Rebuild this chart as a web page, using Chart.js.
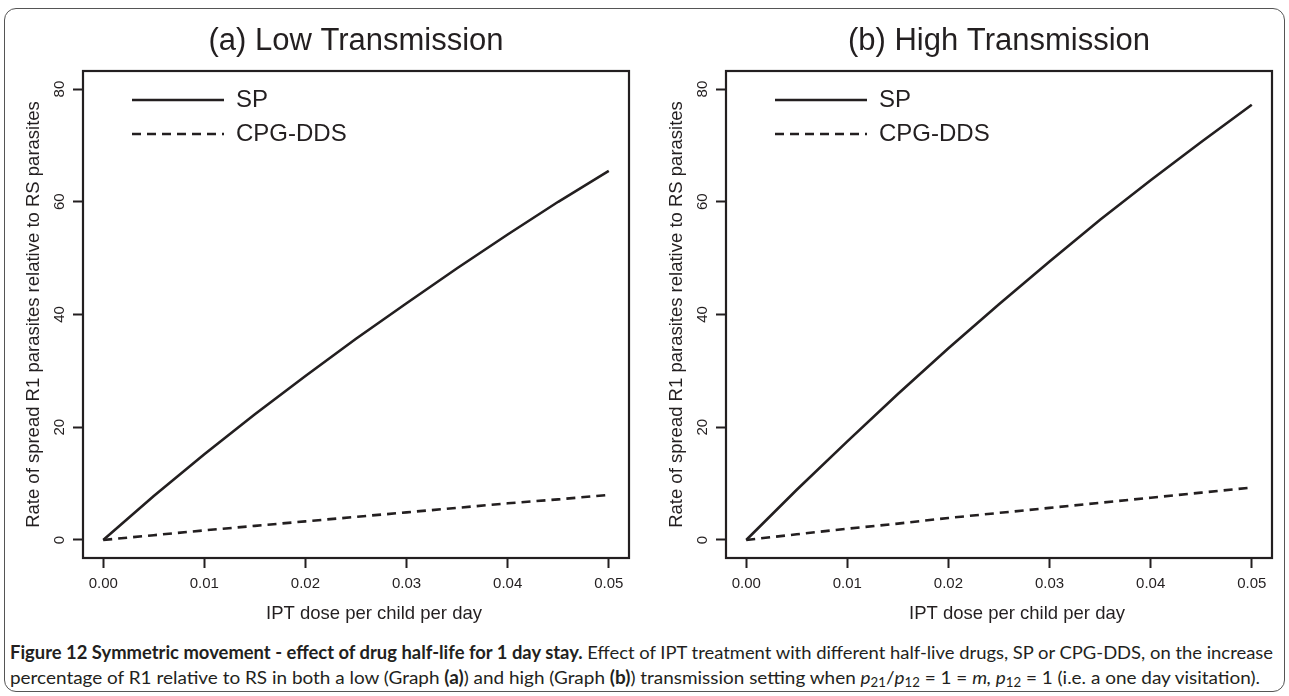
<!DOCTYPE html>
<html><head><meta charset="utf-8">
<script src="https://cdn.jsdelivr.net/npm/chart.js@4.4.1/dist/chart.umd.min.js"></script>
<style>
html,body{margin:0;padding:0;background:#fff;width:1289px;height:696px;overflow:hidden;}
#frame{position:absolute;left:4px;top:8px;width:1281px;height:684px;border:1.5px solid #555;border-radius:12px;box-sizing:border-box;}
.pane{position:absolute;top:0;width:644px;height:640px;}
#pa{left:0;} #pb{left:643px;}
#caption{position:absolute;left:10px;top:640px;font-family:Lato,"Open Sans",sans-serif;font-size:18px;line-height:25px;color:#231f20;}
.cl{white-space:nowrap;transform-origin:0 50%;width:max-content;}
.cl b{font-weight:700;}
sub{font-size:70%;vertical-align:-3px;line-height:0;}
</style></head>
<body>
<div id="frame"></div>
<div class="pane" id="pa"><canvas id="ca" width="644" height="640"></canvas></div>
<div class="pane" id="pb"><canvas id="cb" width="644" height="640"></canvas></div>
<div id="caption">
<div class="cl" id="l1" data-w="1263"><b>Figure 12 Symmetric movement - effect of drug half-life for 1 day stay.</b> Effect of IPT treatment with different half-live drugs, SP or CPG-DDS, on the increase</div>
<div class="cl" id="l2" data-w="1250">percentage of R1 relative to RS in both a low (Graph <b>(a)</b>) and high (Graph <b>(b)</b>) transmission setting when <i>p</i><sub>21</sub>/<i>p</i><sub>12</sub> = 1 = <i>m, p</i><sub>12</sub> = 1 (i.e. a one day visitation).</div>
</div>
<script>
const X_DOSE = [0, 0.005, 0.01, 0.015, 0.02, 0.025, 0.03, 0.035, 0.04, 0.045, 0.05];
const LOW_SP = [0, 7.8, 15.2, 22.3, 29.1, 35.7, 42.0, 48.2, 54.2, 60.0, 65.5];
const LOW_CPG = [0, 0.85, 1.7, 2.5, 3.3, 4.1, 4.9, 5.7, 6.5, 7.2, 8.0];
const HIGH_SP = [0, 8.9, 17.5, 25.9, 34.0, 41.8, 49.4, 56.8, 63.8, 70.6, 77.2];
const HIGH_CPG = [0, 1.0, 2.0, 2.9, 3.9, 4.8, 5.7, 6.6, 7.5, 8.4, 9.3];
const X_TICKS = [0, 0.01, 0.02, 0.03, 0.04, 0.05];
const X_TICK_LABELS = ['0.00', '0.01', '0.02', '0.03', '0.04', '0.05'];
const Y_TICKS = [0, 20, 40, 60, 80];
const Y_TICK_LABELS = ['0', '20', '40', '60', '80'];
const SERIES_NAMES = ['SP', 'CPG-DDS'];
const PANEL_TITLES = ['(a) Low Transmission', '(b) High Transmission'];
const X_TITLE = 'IPT dose per child per day';
const Y_TITLE = 'Rate of spread R1 parasites relative to RS parasites';

const INK = '#231f20';
const FONT = '"Liberation Sans", Arial, sans-serif';

const boxPlugin = {
  id: 'rbox',
  afterLayout(chart) {
    const sx = chart.scales.x;
    if (!sx._shifted) {
      const orig = sx.drawTitle;
      sx.drawTitle = function () {
        const ctx = this.ctx; ctx.save(); ctx.translate(18, 0); orig.apply(this, arguments); ctx.restore();
      };
      sx._shifted = true;
    }
  },
  afterDatasetsDraw(chart) {
    const {ctx, chartArea: a} = chart;
    ctx.save(); ctx.strokeStyle = INK; ctx.lineWidth = 2.2;
    ctx.strokeRect(a.left, a.top, a.right - a.left, a.bottom - a.top);
    ctx.restore();
  }
};
const legendPlugin = {
  id: 'rlegend',
  afterDatasetsDraw(chart, args, o) {
    const {ctx, chartArea: a} = chart;
    chart.data.datasets.forEach((ds, i) => {
      const y = a.top + o.top + i * o.gap;
      const x0 = a.left + o.left;
      ctx.save();
      ctx.strokeStyle = ds.borderColor; ctx.lineWidth = ds.borderWidth;
      ctx.setLineDash(ds.borderDash || []);
      ctx.beginPath(); ctx.moveTo(x0, y); ctx.lineTo(x0 + o.len, y); ctx.stroke();
      ctx.setLineDash([]);
      ctx.fillStyle = INK; ctx.font = o.font; ctx.textBaseline = 'middle';
      ctx.fillText(ds.label, x0 + o.len + o.textGap, y);
      ctx.restore();
    });
  }
};

function pts(ys) { return X_DOSE.map((x, i) => ({x: x, y: ys[i]})); }

function makeChart(id, title, sp, cpg) {
  return new Chart(document.getElementById(id), {
    type: 'line',
    data: {
      datasets: [
        {label: SERIES_NAMES[0], data: pts(sp), borderColor: INK, borderWidth: 2.6, pointRadius: 0, tension: 0, fill: false},
        {label: SERIES_NAMES[1], data: pts(cpg), borderColor: INK, borderWidth: 2.6, borderDash: [9, 6], pointRadius: 0, tension: 0, fill: false}
      ]
    },
    plugins: [boxPlugin, legendPlugin],
    options: {
      responsive: false, animation: false, devicePixelRatio: 1,
      layout: {padding: {left: 0, right: 15, top: 0, bottom: 0}},
      plugins: {
        legend: {display: false}, tooltip: {enabled: false},
        title: {display: true, text: title, fullSize: false, color: INK,
          font: {family: FONT, size: 31, weight: 'normal', lineHeight: 1.2},
          padding: {top: 22.4, bottom: 11.4}},
        rlegend: {left: 49, top: 29, gap: 34, len: 92, textGap: 12, font: '24px ' + FONT}
      },
      scales: {
        x: {
          type: 'linear', min: -0.002, max: 0.052,
          afterBuildTicks: s => { s.ticks = X_TICKS.map(v => ({value: v})); },
          afterFit: s => { s.height = 82; },
          ticks: {callback: (v, i) => X_TICK_LABELS[i], color: INK, padding: 7, maxRotation: 0, autoSkip: false,
            font: {family: FONT, size: 15}},
          grid: {display: true, drawOnChartArea: false, drawTicks: true, tickLength: 10, tickWidth: 2, tickColor: INK},
          border: {display: false},
          title: {display: true, text: X_TITLE, color: INK, font: {family: FONT, size: 18.5, lineHeight: 1.2}, padding: {top: 0, bottom: 15}}
        },
        y: {
          type: 'linear', min: -3.2, max: 83.2,
          afterBuildTicks: s => { s.ticks = Y_TICKS.map(v => ({value: v})); },
          afterFit: s => { s.width = 83; },
          ticks: {callback: (v, i) => Y_TICK_LABELS[i], color: INK, padding: 5, minRotation: 90, maxRotation: 90,
            crossAlign: 'center', autoSkip: false, font: {family: FONT, size: 15}},
          grid: {display: true, drawOnChartArea: false, drawTicks: true, tickLength: 10, tickWidth: 2, tickColor: INK},
          border: {display: false},
          title: {display: true, text: Y_TITLE, color: INK, font: {family: FONT, size: 18.5, lineHeight: 1.2}, padding: {top: 23, bottom: 0}}
        }
      }
    }
  });
}

makeChart('ca', PANEL_TITLES[0], LOW_SP, LOW_CPG);
makeChart('cb', PANEL_TITLES[1], HIGH_SP, HIGH_CPG);

document.querySelectorAll('.cl').forEach(el => {
  const w = el.getBoundingClientRect().width;
  const target = +el.dataset.w;
  el.style.transform = 'scaleX(' + (target / w) + ')';
});
</script>
</body></html>
